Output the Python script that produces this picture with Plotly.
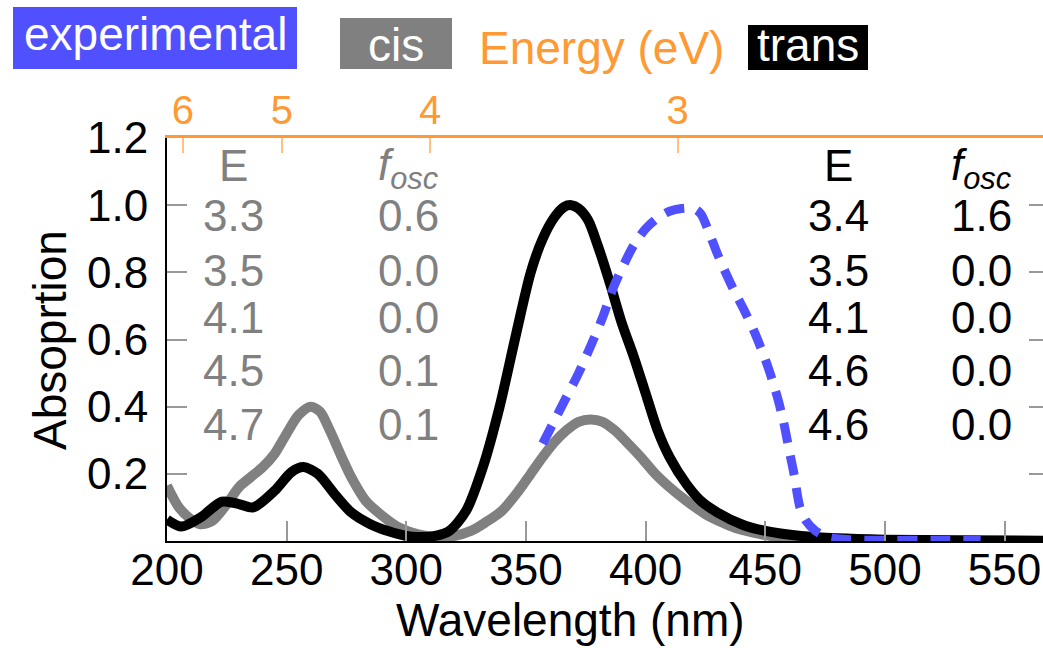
import plotly.graph_objects as go

# ---------------- data ----------------
trans_nm = [200, 206, 214, 223, 230, 236, 245, 252, 257, 263, 270, 277, 285, 293, 300, 305,
            312, 318, 325, 332, 339, 346, 352, 357, 362, 366, 369, 372, 376, 380, 385, 390,
            395, 400, 405, 410, 417, 423, 430, 440, 450, 465, 480, 500, 530, 567]
trans_abs = [0.064, 0.043, 0.07, 0.117, 0.11, 0.10, 0.15, 0.205, 0.22, 0.20, 0.14, 0.085, 0.05,
             0.028, 0.015, 0.012, 0.015, 0.03, 0.09, 0.22, 0.40, 0.62, 0.80, 0.90, 0.965, 0.995,
             1.0, 0.99, 0.955, 0.88, 0.77, 0.65, 0.55, 0.44, 0.33, 0.25, 0.17, 0.12, 0.085, 0.05,
             0.03, 0.015, 0.008, 0.004, 0.002, 0.001]

cis_nm = [200, 205, 210, 214, 219, 225, 230, 235, 240, 245, 250, 255, 260, 264, 268, 273, 277,
          283, 290, 297, 305, 312, 320, 327, 333, 340, 347, 352, 357, 362, 367, 372, 377, 382,
          387, 392, 398, 404, 410, 417, 425, 432, 437, 445, 455, 470, 490, 520, 567]
cis_abs = [0.165, 0.10, 0.065, 0.05, 0.06, 0.11, 0.16, 0.19, 0.22, 0.26, 0.32, 0.375, 0.40,
           0.385, 0.33, 0.25, 0.19, 0.12, 0.075, 0.04, 0.02, 0.013, 0.015, 0.03, 0.055, 0.09,
           0.15, 0.20, 0.25, 0.295, 0.33, 0.355, 0.362, 0.355, 0.33, 0.295, 0.25, 0.20, 0.16,
           0.12, 0.08, 0.055, 0.04, 0.025, 0.012, 0.005, 0.002, 0.001, 0.0]

exp_nm = [357, 362, 367, 372, 377, 382, 386, 390, 395, 400, 405, 410, 415, 420, 423, 427, 430,
          434, 437, 441, 445, 449, 452, 455, 457.5, 460, 462, 464.5, 467, 471, 476, 485, 500,
          520, 540]
exp_abs = [0.29, 0.36, 0.43, 0.50, 0.58, 0.665, 0.745, 0.81, 0.88, 0.93, 0.962, 0.982, 0.99,
           0.99, 0.975, 0.91, 0.855, 0.79, 0.745, 0.69, 0.63, 0.56, 0.50, 0.43, 0.36, 0.27,
           0.20, 0.10, 0.06, 0.03, 0.012, 0.004, 0.002, 0.002, 0.002]

x_ticks = [200, 250, 300, 350, 400, 450, 500, 550]
y_ticks = [0.2, 0.4, 0.6, 0.8, 1.0, 1.2]
y_tick_labels = ["0.2", "0.4", "0.6", "0.8", "1.0", "1.2"]
energy_ticks_ev = [6, 5, 4, 3]

cis_E = ["3.3", "3.5", "4.1", "4.5", "4.7"]
cis_f = ["0.6", "0.0", "0.0", "0.1", "0.1"]
trans_E = ["3.4", "3.5", "4.1", "4.6", "4.6"]
trans_f = ["1.6", "0.0", "0.0", "0.0", "0.0"]

# ---------------- style ----------------
W, H = 1043, 648
L, R, T, B = 167, 0, 138, 107
PW, PH = W - L - R, H - T - B
FONT = "Liberation Sans, Arial, sans-serif"
BLUE = "#5050FF"
GRAY = "#808080"
ORANGE = "#FF9933"
FS = 44


def px(xp):
    return (xp - L) / PW


def py(yp):
    return (H - B - yp) / PH


fig = go.Figure()
fig.add_trace(go.Scatter(x=cis_nm, y=cis_abs, mode="lines", line=dict(color=GRAY, width=10, shape="spline", smoothing=0.8),
                         showlegend=False, hoverinfo="skip"))
fig.add_trace(go.Scatter(x=trans_nm, y=trans_abs, mode="lines", line=dict(color="black", width=10, shape="spline", smoothing=0.8),
                         showlegend=False, hoverinfo="skip"))
fig.add_trace(go.Scatter(x=exp_nm, y=exp_abs, mode="lines",
                         line=dict(color=BLUE, width=9, dash="20px,13px", shape="spline", smoothing=0.8),
                         showlegend=False, hoverinfo="skip"))
# invisible helper for secondary axes
fig.add_trace(go.Scatter(x=[300], y=[0.5], xaxis="x2", yaxis="y2", mode="markers",
                         marker=dict(opacity=0), showlegend=False, hoverinfo="skip"))

XR = [200, 200 + PW / 2.393]

fig.update_layout(
    width=W, height=H,
    margin=dict(l=L, r=R, t=T, b=B, pad=0, autoexpand=False),
    paper_bgcolor="white", plot_bgcolor="white",
    font=dict(family=FONT, size=FS, color="black"),
    xaxis=dict(range=XR, tickvals=x_ticks, ticks="inside", ticklen=20, tickwidth=1.5, tickcolor="#999999",
               showline=True, linecolor="black", linewidth=2, showgrid=False, zeroline=False,
               tickfont=dict(size=FS, color="black"), ticklabelstandoff=-11, automargin=False),
    xaxis2=dict(range=XR, overlaying="x", side="top", anchor="y",
                tickvals=[1240 / e for e in energy_ticks_ev], ticktext=[str(e) for e in energy_ticks_ev],
                ticks="inside", ticklen=15, tickwidth=1.5, tickcolor="#FFC080",
                showline=True, linecolor=ORANGE, linewidth=3, showgrid=False, zeroline=False,
                tickfont=dict(size=40, color=ORANGE), ticklabelstandoff=-5, automargin=False),
    yaxis=dict(range=[0, 1.2], tickvals=y_ticks, ticktext=y_tick_labels, ticks="inside", ticklen=20,
               tickwidth=1.5, tickcolor="#999999", showline=True, linecolor="black", linewidth=2,
               showgrid=False, zeroline=False, tickfont=dict(size=FS, color="black"), ticklabelstandoff=8,
               automargin=False),
    yaxis2=dict(range=[0, 1.2], overlaying="y", side="right", anchor="x", tickvals=y_ticks,
                ticks="inside", ticklen=14, tickwidth=1.5, tickcolor="#999999", showticklabels=False,
                showline=False, showgrid=False, zeroline=False, automargin=False),
)

ann = []
shapes = []

# axis titles
ann.append(dict(text="Wavelength (nm)", x=px(570), y=py(620), xref="paper", yref="paper",
                showarrow=False, font=dict(size=46, color="black"), xanchor="center", yanchor="middle"))
ann.append(dict(text="Absoprtion", x=px(50), y=py(340), xref="paper", yref="paper", textangle=-90,
                showarrow=False, font=dict(size=46, color="black"), xanchor="center", yanchor="middle"))

# legend-like header
for (x0, x1, y0, y1, col, txt, cy) in [
    (13, 297, 7, 69, BLUE, "experimental", 34),
    (340, 452, 18, 69, GRAY, "cis", 45),
    (748, 868, 25, 70, "black", "trans", 45),
]:
    shapes.append(dict(type="rect", xref="paper", yref="paper", x0=px(x0), x1=px(x1), y0=py(y1), y1=py(y0),
                       fillcolor=col, line=dict(width=0), layer="above"))
    ann.append(dict(text=txt, x=px((x0 + x1) / 2), y=py(cy), xref="paper", yref="paper", showarrow=False,
                    font=dict(size=46, color="white"), xanchor="center", yanchor="middle"))
ann.append(dict(text="Energy (eV)", x=px(601), y=py(48), xref="paper", yref="paper", showarrow=False,
                font=dict(size=46, color=ORANGE), xanchor="center", yanchor="middle"))

# tables
row_y = [215, 270, 317, 370, 424]
for (cx_e, cx_f, col, Es, fs) in [(233, 408, GRAY, cis_E, cis_f), (838, 981, "black", trans_E, trans_f)]:
    ann.append(dict(text="E", x=px(cx_e), y=py(165), xref="paper", yref="paper", showarrow=False,
                    font=dict(size=FS, color=col), xanchor="center", yanchor="middle"))
    ann.append(dict(text="<i>f</i><sub><i>osc</i></sub>", x=px(cx_f), y=py(168), xref="paper", yref="paper",
                    showarrow=False, font=dict(size=FS, color=col), xanchor="center", yanchor="middle"))
    for e, f, ry in zip(Es, fs, row_y):
        ann.append(dict(text=e, x=px(cx_e), y=py(ry), xref="paper", yref="paper", showarrow=False,
                        font=dict(size=FS, color=col), xanchor="center", yanchor="middle"))
        ann.append(dict(text=f, x=px(cx_f), y=py(ry), xref="paper", yref="paper", showarrow=False,
                        font=dict(size=FS, color=col), xanchor="center", yanchor="middle"))

fig.update_layout(annotations=ann, shapes=shapes)
fig.write_html("out.html", config={"displayModeBar": False},
               post_script="document.body.style.margin='0px';document.body.style.overflow='hidden';")
